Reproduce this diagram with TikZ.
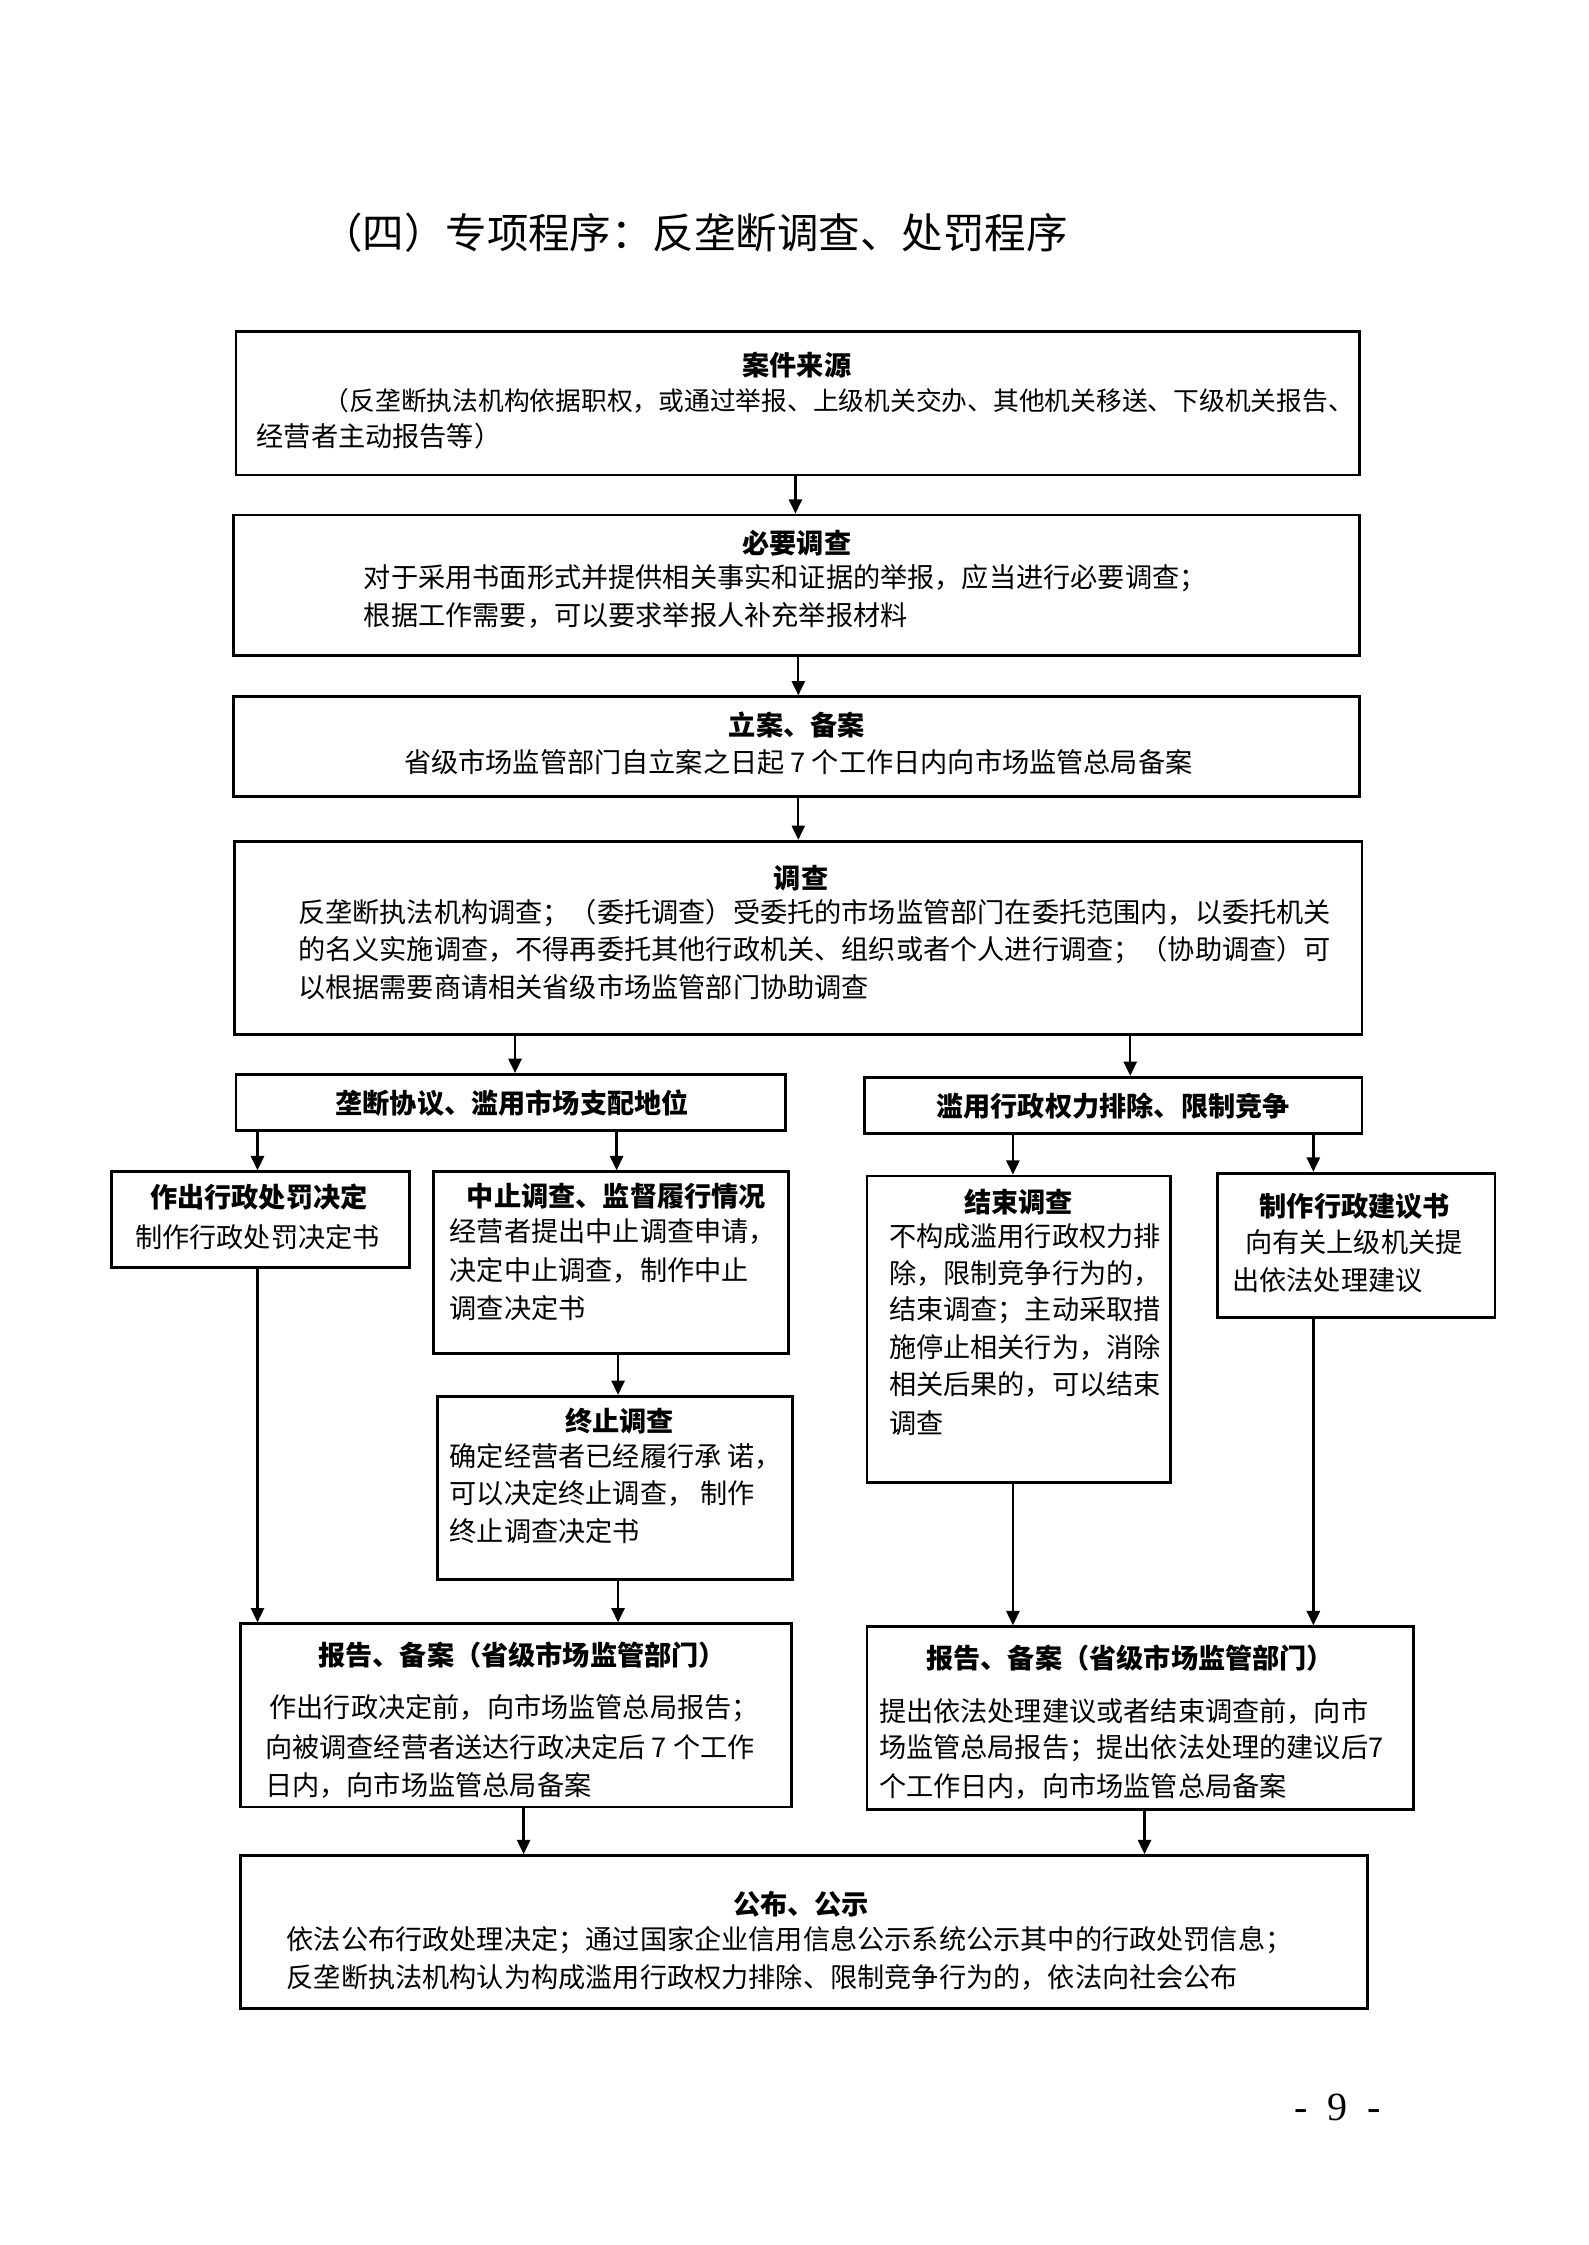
\documentclass[tikz,border=0pt]{standalone}
\usepackage{fontspec}
\setmainfont{Noto Sans CJK SC}
\newfontfamily\numfont{Liberation Serif}
\usetikzlibrary{arrows.meta,fit}
\begin{document}
\begin{tikzpicture}[x=0.5pt,y=-0.5pt,
  box/.style={draw, line width=1pt, inner sep=0pt},
  arr/.style={-{Triangle[length=5pt,width=4.6pt]}, line width=0.8pt},
  ttl/.style={font=\fontsize{9.5pt}{13pt}\selectfont\bfseries, inner sep=0pt},
  txt/.style={font=\fontsize{9.5pt}{13pt}\selectfont, inner sep=0pt, anchor=west},
  ctxt/.style={font=\fontsize{9.5pt}{13pt}\selectfont, inner sep=0pt}]
\useasboundingbox (0,0) rectangle (1110,1569.2);
\fill[white] (0,0) rectangle (1110,1569.2);

% title
\node[font=\fontsize{14.5pt}{18pt}\selectfont, inner sep=0pt, anchor=west] (title) at (224,163) {（四）专项程序：反垄断调查、处罚程序};

% boxes
\node[box, fit={(165,232) (950,332)}] (b1) {};
\node[box, fit={(163,360) (950,458)}] (b2) {};
\node[box, fit={(163,487) (950,557)}] (b3) {};
\node[box, fit={(164,588) (952,723)}] (b4) {};
\node[box, fit={(165,751) (549,790)}] (b5) {};
\node[box, fit={(604,753) (952,792)}] (b6) {};
\node[box, fit={(78,819) (286,886)}] (b7) {};
\node[box, fit={(303,819) (551,946)}] (b8) {};
\node[box, fit={(306,976) (554,1104)}] (b9) {};
\node[box, fit={(606,822) (818,1036)}] (b10) {};
\node[box, fit={(851,820) (1045,921)}] (b11) {};
\node[box, fit={(168,1135) (553,1263)}] (b12) {};
\node[box, fit={(606,1137) (988,1265)}] (b13) {};
\node[box, fit={(168,1297) (956,1404)}] (b14) {};

% texts box1
\node[ttl] (t1) at (557,255) {案件来源};
\node[txt, font=\fontsize{9pt}{13pt}\selectfont] (t1a) at (226,280) {（反垄断执法机构依据职权，或通过举报、上级机关交办、其他机关移送、下级机关报告、};
\node[txt] (t1b) at (179,305) {经营者主动报告等）};
% box2
\node[ttl] (t2) at (557,380) {必要调查};
\node[txt] (t2a) at (254,404) {对于采用书面形式并提供相关事实和证据的举报，应当进行必要调查；};
\node[txt] (t2b) at (254,430) {根据工作需要，可以要求举报人补充举报材料};
% box3
\node[ttl] (t3) at (557,507) {立案、备案};
\node[ctxt] (t3a) at (558,533) {省级市场监管部门自立案之日起 7 个工作日内向市场监管总局备案};
% box4
\node[ttl] (t4) at (560,614) {调查};
\node[txt] (t4a) at (208,638) {反垄断执法机构调查；（委托调查）受委托的市场监管部门在委托范围内，以委托机关};
\node[txt] (t4b) at (208,664) {的名义实施调查，不得再委托其他行政机关、组织或者个人进行调查；（协助调查）可};
\node[txt] (t4c) at (208,690) {以根据需要商请相关省级市场监管部门协助调查};
% box5, box6
\node[ttl] (t5) at (358,771) {垄断协议、滥用市场支配地位};
\node[ttl] (t6) at (778,773) {滥用行政权力排除、限制竞争};
% box7
\node[ttl] (t7) at (181,837) {作出行政处罚决定};
\node[ctxt] (t7a) at (180,865) {制作行政处罚决定书};
% box8
\node[ttl, anchor=west] (t8) at (326,836) {中止调查、监督履行情况};
\node[txt] (t8a) at (314,861) {经营者提出中止调查申请，};
\node[txt] (t8b) at (314,888) {决定中止调查，制作中止};
\node[txt] (t8c) at (314,914) {调查决定书};
% box9
\node[ttl] (t9) at (433,993) {终止调查};
\node[txt] (t9a) at (314,1018) {确定经营者已经履行承 诺，};
\node[txt] (t9b) at (314,1044) {可以决定终止调查， 制作};
\node[txt] (t9c) at (314,1070) {终止调查决定书};
% box10
\node[ttl] (t10) at (712,840) {结束调查};
\node[txt] (t10a) at (621,864) {不构成滥用行政权力排};
\node[txt] (t10b) at (621,890) {除，限制竞争行为的，};
\node[txt] (t10c) at (621,916) {结束调查；主动采取措};
\node[txt] (t10d) at (621,942) {施停止相关行为，消除};
\node[txt] (t10e) at (621,968) {相关后果的，可以结束};
\node[txt] (t10f) at (621,995) {调查};
% box11
\node[ttl] (t11) at (947,843) {制作行政建议书};
\node[txt] (t11a) at (870,868) {向有关上级机关提};
\node[txt] (t11b) at (861,895) {出依法处理建议};
% box12
\node[ttl] (t12) at (365,1157) {报告、备案（省级市场监管部门）};
\node[txt] (t12a) at (188,1194) {作出行政决定前，向市场监管总局报告；};
\node[txt] (t12b) at (185,1221) {向被调查经营者送达行政决定后 7 个工作};
\node[txt] (t12c) at (185,1248) {日内，向市场监管总局备案};
% box13
\node[ttl] (t13) at (790,1159) {报告、备案（省级市场监管部门）};
\node[txt] (t13a) at (614,1196) {提出依法处理建议或者结束调查前，向市};
\node[txt] (t13b) at (614,1222) {场监管总局报告；提出依法处理的建议后7};
\node[txt] (t13c) at (614,1249) {个工作日内，向市场监管总局备案};
% box14
\node[ttl] (t14) at (560,1331) {公布、公示};
\node[txt] (t14a) at (200,1356) {依法公布行政处理决定；通过国家企业信用信息公示系统公示其中的行政处罚信息；};
\node[txt] (t14b) at (200,1382) {反垄断执法机构认为构成滥用行政权力排除、限制竞争行为的，依法向社会公布};

% page number
\node[font=\numfont\fontsize{14pt}{16pt}\selectfont, inner sep=0pt] (pg) at (935,1473) {-\ \ 9\ \ -};

% column coordinates
\coordinate (X556) at (556,0);
\coordinate (X558) at (558,0);
\coordinate (X360) at (360,0);
\coordinate (X790) at (790,0);
\coordinate (X181) at (180,0);
\coordinate (X430) at (431,0);
\coordinate (X432) at (432,0);
\coordinate (X708) at (708,0);
\coordinate (X918) at (918,0);
\coordinate (X366) at (366,0);
\coordinate (X800) at (800,0);

% connectors
\draw[arr] (b1.south -| X556) -- (b2.north -| X556);
\draw[arr] (b2.south -| X558) -- (b3.north -| X558);
\draw[arr] (b3.south -| X558) -- (b4.north -| X558);
\draw[arr] (b4.south -| X360) -- (b5.north -| X360);
\draw[arr] (b4.south -| X790) -- (b6.north -| X790);
\draw[arr] (b5.south -| X181) -- (b7.north -| X181);
\draw[arr] (b5.south -| X430) -- (b8.north -| X430);
\draw[arr] (b6.south -| X708) -- (b10.north -| X708);
\draw[arr] (b6.south -| X918) -- (b11.north -| X918);
\draw[arr] (b8.south -| X432) -- (b9.north -| X432);
\draw[arr] (b7.south -| X181) -- (b12.north -| X181);
\draw[arr] (b9.south -| X432) -- (b12.north -| X432);
\draw[arr] (b10.south -| X708) -- (b13.north -| X708);
\draw[arr] (b11.south -| X918) -- (b13.north -| X918);
\draw[arr] (b12.south -| X366) -- (b14.north -| X366);
\draw[arr] (b13.south -| X800) -- (b14.north -| X800);
\end{tikzpicture}
\end{document}
